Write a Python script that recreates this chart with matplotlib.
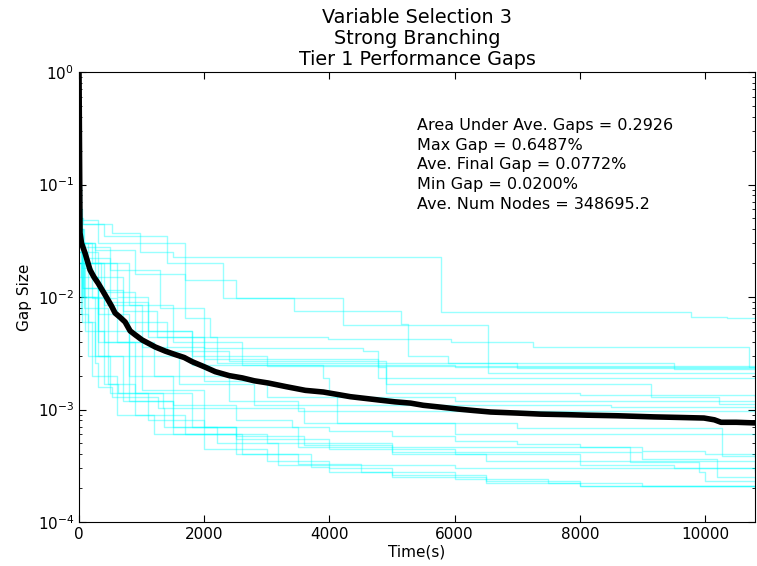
import matplotlib
matplotlib.use("Agg")
import matplotlib.pyplot as plt
import numpy as np

# average gap curve (thick black line)
ave_t = [0, 16, 40, 96, 176, 240, 304, 384, 464, 520, 576, 656, 736, 816, 900,
         1008, 1100, 1216, 1380, 1536, 1680, 1808, 2000, 2176, 2400, 2608, 2800,
         3024, 3300, 3616, 3904, 4100, 4336, 4600, 4816, 5050, 5296, 5500, 5776,
         6048, 6300, 6576, 7000, 7376, 7800, 8128, 8600, 9184, 9600, 9984, 10150,
         10256, 10500, 10800]
ave_gap = [1.0, 0.0371, 0.030, 0.0246, 0.0174, 0.0150, 0.0133, 0.0112, 0.0094,
           0.0083, 0.0072, 0.0066, 0.0060, 0.0050, 0.0046, 0.00415, 0.0039, 0.0036,
           0.0033, 0.00308, 0.0029, 0.00266, 0.0024, 0.00217, 0.0020, 0.00191,
           0.0018, 0.00172, 0.0016, 0.00148, 0.00143, 0.00137, 0.0013, 0.00125,
           0.00121, 0.00117, 0.00114, 0.00109, 0.00105, 0.00101, 0.00098, 0.00095,
           0.00093, 0.00091, 0.0009, 0.00089, 0.00088, 0.00086, 0.00085, 0.00084,
           0.00081, 0.00077, 0.00077, 0.00076]

# individual instance gap histories (cyan step lines)
run_times = [
    [0, 30, 530, 980, 1500, 5790, 9780, 10350, 10800],
    [0, 40, 300, 1700, 2500, 4210, 6530, 10800],
    [0, 60, 400, 1400, 2300, 3440, 5140, 5260, 5900, 9500, 10800],
    [0, 20, 250, 900, 1700, 2100, 3970, 5950, 7260, 10700, 10800],
    [0, 50, 500, 1300, 2000, 4530, 4780, 10800],
    [0, 30, 200, 800, 1500, 2600, 6000, 10800],
    [0, 60, 300, 700, 1250, 2200, 7000, 10800],
    [0, 100, 600, 1100, 1800, 3000, 10800],
    [0, 40, 250, 700, 1400, 2400, 4780, 4900, 9140, 10220, 10800],
    [0, 80, 500, 1100, 2000, 4780, 4900, 8000, 10800],
    [0, 50, 350, 900, 1800, 3900, 4000, 4120, 7000, 10270, 10800],
    [0, 40, 200, 600, 1200, 2400, 3500, 10800],
    [0, 70, 400, 1000, 2000, 3000, 6000, 10800],
    [0, 30, 300, 800, 1600, 2800, 8500, 10800],
    [0, 60, 300, 800, 1500, 2500, 3400, 4000, 5000, 6000, 7000, 8000, 9000, 10000, 10800],
    [0, 80, 400, 1000, 2000, 3500, 8800, 9900, 10000, 10800],
    [0, 140, 256, 300, 530, 1260, 3600, 6000, 10800],
    [0, 80, 460, 620, 1340, 1360, 2500, 3600, 5000, 6500, 8000, 9500, 10800],
    [0, 50, 300, 900, 1800, 2200, 3180, 6000, 10800],
    [0, 40, 200, 600, 1200, 2000, 3000, 4000, 5000, 6500, 8000, 10800],
    [0, 100, 400, 900, 1700, 2600, 3500, 4500, 6000, 7500, 9000, 10800],
    [0, 60, 300, 800, 1500, 2500, 3700, 4000, 5000, 6500, 8000, 10800],
    [0, 50, 250, 700, 1500, 2500, 4000, 6000, 8000, 10800],
    [0, 30, 150, 500, 1100, 2000, 3000, 5000, 9000, 10200, 10800],
]
run_gaps = [
    [0.1, 0.045, 0.037, 0.025, 0.0227, 0.0074, 0.0066, 0.0065, 0.0065],
    [0.06, 0.048, 0.03, 0.0142, 0.0098, 0.0056, 0.0021, 0.0021],
    [0.05, 0.045, 0.035, 0.02, 0.0098, 0.0075, 0.0058, 0.003, 0.0026, 0.00227, 0.00227],
    [0.04, 0.03, 0.026, 0.016, 0.0065, 0.0044, 0.0042, 0.004, 0.0036, 0.0024, 0.0024],
    [0.035, 0.028, 0.0174, 0.008, 0.0035, 0.0033, 0.00192, 0.00192],
    [0.045, 0.03, 0.02, 0.0085, 0.004, 0.0025, 0.0024, 0.0024],
    [0.04, 0.025, 0.0116, 0.0075, 0.0044, 0.0026, 0.00235, 0.00227],
    [0.03, 0.02, 0.01, 0.005, 0.003, 0.00245, 0.00245],
    [0.05, 0.03, 0.015, 0.006, 0.0033, 0.0027, 0.0024, 0.00169, 0.00129, 0.00113, 0.00113],
    [0.04, 0.022, 0.009, 0.0044, 0.0028, 0.0027, 0.00141, 0.00135, 0.00131],
    [0.03, 0.02, 0.011, 0.005, 0.0025, 0.00192, 0.00141, 0.00076, 0.00068, 0.00039, 0.00039],
    [0.035, 0.018, 0.0098, 0.004, 0.002, 0.0012, 0.00098, 0.00092],
    [0.04, 0.02, 0.0085, 0.0036, 0.0018, 0.0013, 0.00118, 0.00118],
    [0.03, 0.015, 0.007, 0.003, 0.0017, 0.0011, 0.00106, 0.00104],
    [0.02, 0.012, 0.005, 0.002, 0.0011, 0.0008, 0.0007, 0.00065, 0.00058, 0.00053,
     0.00049, 0.00046, 0.00043, 0.0004, 0.00037],
    [0.025, 0.01, 0.004, 0.0015, 0.0007, 0.00046, 0.00034, 0.00028, 0.00023, 0.00022],
    [0.03, 0.006, 0.0026, 0.0016, 0.0013, 0.00104, 0.00076, 0.0006, 0.00053],
    [0.02, 0.008, 0.0017, 0.0014, 0.00104, 0.0007, 0.00058, 0.00048, 0.0004, 0.00035,
     0.00032, 0.0003, 0.00029],
    [0.025, 0.012, 0.004, 0.0014, 0.0007, 0.0005, 0.00032, 0.0003, 0.00028],
    [0.015, 0.006, 0.002, 0.0009, 0.0006, 0.00045, 0.00035, 0.0003, 0.00026, 0.00023,
     0.00021, 0.0002],
    [0.02, 0.005, 0.0017, 0.0009, 0.0006, 0.0004, 0.00033, 0.00028, 0.00024, 0.00022,
     0.00021, 0.00021],
    [0.025, 0.01, 0.003, 0.0012, 0.0006, 0.0004, 0.00031, 0.00028, 0.00025, 0.00022,
     0.00021, 0.000205],
    [0.03, 0.01, 0.003, 0.0012, 0.0007, 0.00055, 0.00045, 0.0004, 0.00035, 0.00031],
    [0.02, 0.007, 0.003, 0.0014, 0.0008, 0.0006, 0.0005, 0.00042, 0.00036, 0.00025,
     0.00024],
]

titles = ["Variable Selection 3", "Strong Branching", "Tier 1 Performance Gaps"]
stats = [
    "Area Under Ave. Gaps = 0.2926",
    "Max Gap = 0.6487%",
    "Ave. Final Gap = 0.0772%",
    "Min Gap = 0.0200%",
    "Ave. Num Nodes = 348695.2",
]

fig = plt.figure(figsize=(7.57, 5.66), dpi=100)
ax = fig.add_axes([0.1044, 0.0777, 0.8930, 0.7951])

for t, g in zip(run_times, run_gaps):
    ax.plot(t, g, drawstyle="steps-post", color="#00ffff", alpha=0.4, lw=1)

ax.plot(ave_t, ave_gap, color="black", lw=4)

ax.set_yscale("log")
ax.set_xlim(0, 10800)
ax.set_ylim(1e-4, 1)
ax.set_xticks([0, 2000, 4000, 6000, 8000, 10000])
ax.tick_params(which="both", direction="in", top=True, right=True, labelsize=11)
ax.tick_params(which="major", length=5)
ax.tick_params(which="minor", length=2.5)
ax.set_xlabel("Time(s)", fontsize=11, labelpad=2)
ax.set_ylabel("Gap Size", fontsize=11)
ax.set_title("\n".join(titles), fontsize=13.8, pad=5, linespacing=1.12)

ax.text(0.5, 0.897, "\n".join(stats), transform=ax.transAxes, fontsize=11.5,
        va="top", ha="left", linespacing=1.38)

fig.savefig("out.png", dpi=100)
